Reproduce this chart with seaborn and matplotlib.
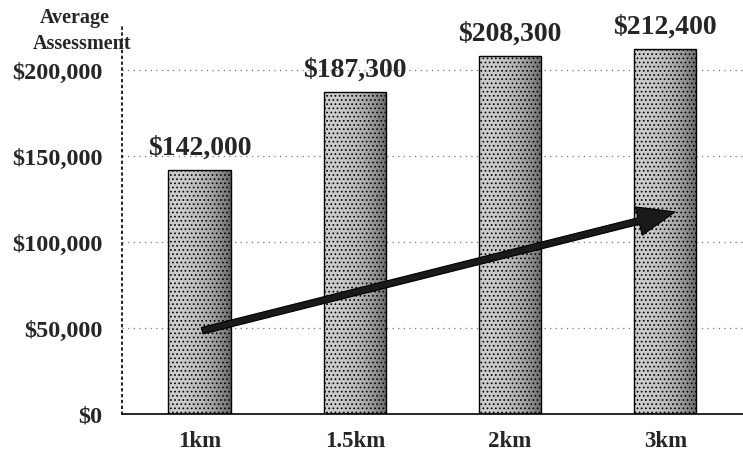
import numpy as np
import pandas as pd
import seaborn as sns
from matplotlib import pyplot as plt

distances = ["1km", "1.5km", "2km", "3km"]
assessments = [142000, 187300, 208300, 212400]
y_ticks = [0, 50000, 100000, 150000, 200000]
# trend arrow: from (1km, ~48k) to just past 3km (~118k)
arrow_start = (0, 48000)
arrow_end = (3.08, 118000)

df = pd.DataFrame({"Distance": distances, "Assessment": assessments})

sns.set_style("white")
plt.rcParams["font.family"] = ["Liberation Serif", "DejaVu Serif"]
plt.rcParams["font.weight"] = "bold"
plt.rcParams["hatch.color"] = "#8a8a8a"
plt.rcParams["hatch.linewidth"] = 0.7

f, ax = plt.subplots(figsize=(7.43, 4.64), dpi=100)
f.subplots_adjust(left=0.164, right=1.0, bottom=0.106, top=0.946)

ax = sns.barplot(data=df, x="Distance", y="Assessment", width=0.4,
                 color="#b0b0b0", edgecolor="black", linewidth=1.0,
                 saturation=1, zorder=3, ax=ax)

# grainy shading: light grey on the left, darker toward the right edge
lvl = 0.80 - 0.38 * np.linspace(0, 1, 64) ** 2.5
shade = np.dstack([np.tile(lvl, (8, 1))] * 3)
for p in ax.patches:
    p.set_hatch("....")
    p.set_facecolor("none")
    x0, y0 = p.get_x(), p.get_y()
    ax.imshow(shade, aspect="auto",
              extent=(x0, x0 + p.get_width(), y0, y0 + p.get_height()),
              clip_path=p, zorder=2.5)

for i, v in enumerate(assessments):
    ax.text(i, v + 6000, f"${v:,}", ha="center", va="bottom",
            fontsize=20, fontweight="bold", clip_on=False)

ax.annotate("", xy=arrow_end, xytext=arrow_start,
            arrowprops=dict(arrowstyle="simple,head_width=1.4,head_length=1.8,tail_width=0.32",
                            fc="#1a1a1a", ec="black", lw=0.8, mutation_scale=15),
            zorder=4)

ax.set_xlim(-0.5, 3.46)
ax.set_ylim(0, 227000)
ax.set_yticks(y_ticks)
ax.set_yticklabels([f"${t:,}" for t in y_ticks], fontsize=17.5, fontweight="bold")
ax.set_xticks(range(len(distances)))
ax.set_xticklabels(distances, fontsize=16.5, fontweight="bold")
ax.set_xticks([-0.5, 0.5, 1.5, 2.5, 3.5], minor=True)
ax.tick_params(axis="y", length=0, pad=14)
ax.tick_params(axis="x", which="major", length=0, pad=12)
ax.tick_params(axis="x", which="minor", length=6, width=1, color="black", direction="out")
ax.set_xlabel("")
ax.set_ylabel("")

ax.yaxis.grid(True, linestyle=(0, (1, 3.5)), color="#777777", linewidth=0.9, zorder=0)
ax.set_axisbelow(True)
for s in ["top", "right"]:
    ax.spines[s].set_visible(False)
ax.spines["left"].set_linestyle((0, (1, 2.5)))
ax.spines["left"].set_linewidth(1.2)
ax.spines["left"].set_color("black")
ax.spines["bottom"].set_linewidth(1.2)
ax.spines["bottom"].set_color("black")

f.text(0.101, 0.962, "Average", ha="center", va="center", fontsize=14.5, fontweight="bold")
f.text(0.11, 0.905, "Assessment", ha="center", va="center", fontsize=14.5, fontweight="bold")

plt.savefig("out.png", dpi=100)
